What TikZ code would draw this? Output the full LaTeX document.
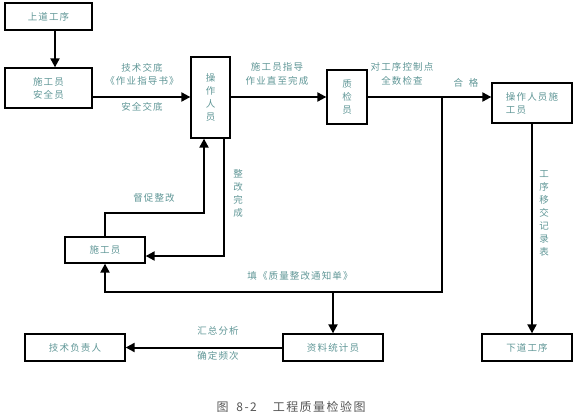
\documentclass[tikz,border=0pt]{standalone}
\usepackage{fontspec}
\setmainfont{Noto Sans CJK SC}
\newfontfamily\cjk[LetterSpace=12]{Noto Sans CJK SC}
\usetikzlibrary{arrows.meta}
\definecolor{tc}{RGB}{95,150,150}
\definecolor{capc}{RGB}{85,85,85}
\newcommand{\lblfont}{\cjk\fontsize{9.5}{13}\selectfont}
\begin{document}
\begin{tikzpicture}[x=1pt,y=-1pt,
  box/.style={draw,line width=1.3pt,inner sep=0pt,text=tc,font=\lblfont,align=center},
  arr/.style={line width=2pt,-{Triangle[length=9pt,width=9pt]}},
  lbl/.style={text=tc,font=\lblfont,inner sep=0pt,align=center},
  vlbl/.style={text=tc,font=\lblfont,inner sep=0pt,align=center,text width=10pt}]
\useasboundingbox (0,0) rectangle (576,417);
% boxes
\node[box,minimum width=87pt,minimum height=27pt] (top) at (48.5,16.5) {上道工序};
\node[box,minimum width=87pt,minimum height=40pt] (sga) at (48.5,88) {施工员\\安全员};
\node[box,minimum width=39pt,minimum height=81pt] (czry) at (210.5,97.5) {操\\作\\人\\员};
\node[box,minimum width=40pt,minimum height=54pt] (zjy) at (347,97) {质\\检\\员};
\node[box,minimum width=80pt,minimum height=40pt,align=left] (czsg) at (532,103) {操作人员施\\工员\hspace*{30pt}};
\node[box,minimum width=80pt,minimum height=26pt] (sgy) at (105,250) {施工员};
\node[box,minimum width=100pt,minimum height=27pt] (zltj) at (333,347.5) {资料统计员};
\node[box,minimum width=100pt,minimum height=27pt] (jsfz) at (75,347.5) {技术负责人};
\node[box,minimum width=90pt,minimum height=27pt] (xdgx) at (527,347.5) {下道工序};
% junction coordinates
\coordinate (j) at (442,97);
\coordinate (k) at (333,292);
% connectors
\draw[arr] (top.south -| 55,0) -- (sga.north -| 55,0);
\draw[arr] (sga.east |- 0,97) -- (czry.west |- 0,97);
\draw[arr] (czry.east |- 0,97) -- (zjy.west |- 0,97);
\draw[arr] (zjy.east |- 0,97) -- (czsg.west |- 0,97);
\draw[arr] (j) |- (sgy.south |- k) -- (sgy.south);
\draw[arr] (k) -- (zltj.north);
\draw[arr] (sgy.north) |- (204,213) -- (czry.south -| 204,0);
\draw[arr] (czry.south -| 224,0) |- (sgy.east |- 0,256);
\draw[arr] (czsg.south) -- (xdgx.north -| czsg.south);
\draw[arr] (zltj.west) -- (jsfz.east);
% labels
\node[lbl] (l1) at (142,68) {技术交底};
\node[lbl] (l2) at (142,81) {《作业指导书》};
\node[lbl] (l3) at (142,107) {安全交底};
\node[lbl] (l4) at (277,67) {施工员指导};
\node[lbl] (l5) at (277,81) {作业直至完成};
\node[lbl] (l6) at (402,67) {对工序控制点};
\node[lbl] (l7) at (402,81) {全数检查};
\node[lbl] (l8) at (466,83) {合\hspace{6pt}格};
\node[lbl] (l9) at (154,198) {督促整改};
\node[vlbl] (l10) at (238,193) {整\\改\\完\\成};
\node[vlbl] (l11) at (544,213) {工\\序\\移\\交\\记\\录\\表};
\node[lbl] (l12) at (300,276) {填《质量整改通知单》};
\node[lbl] (l13) at (218,331) {汇总分析};
\node[lbl] (l14) at (218,356) {确定频次};
\node[text=capc,font=\cjk\fontsize{12}{14}\selectfont,inner sep=0pt] (cap) at (291,407) {图\hspace{8pt}8-2\hspace{16pt}工程质量检验图};
\end{tikzpicture}
\end{document}
